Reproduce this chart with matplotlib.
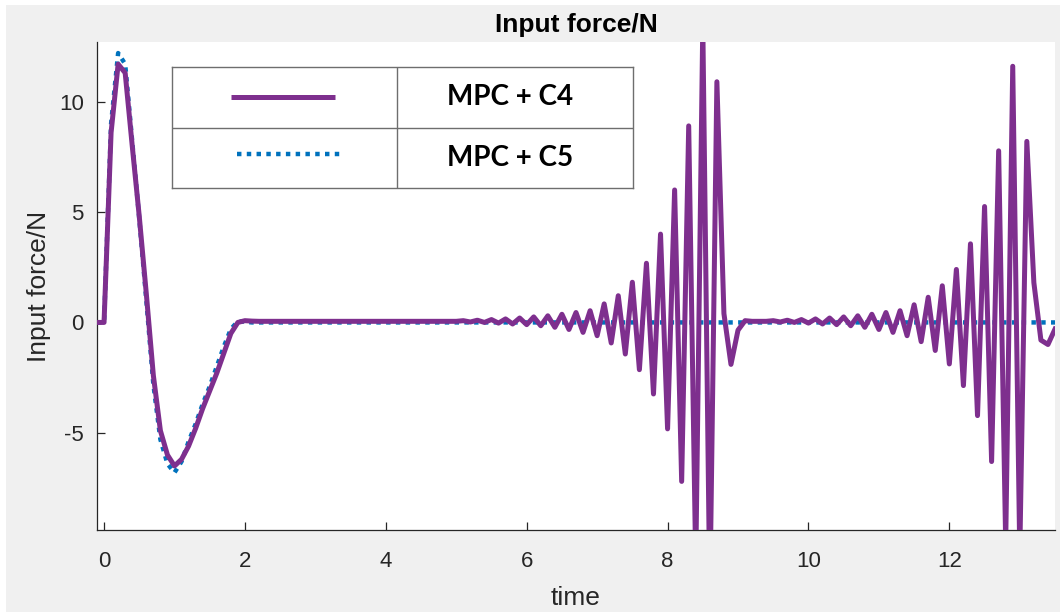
import numpy as np
import matplotlib
matplotlib.use('Agg')
import matplotlib.pyplot as plt
from matplotlib.patches import Rectangle

# Abtastung der Simulation
t_start = -0.1
dt = 0.1

# Input force MPC + C4 (t = -0.1 ... 13.5)
force_c4 = [
    0.0,
    0.0, 8.6, 11.7, 11.3, 8.0, 4.8, 1.3, -2.4, -4.9, -6.0,          # 0.0 - 0.9
    -6.5, -6.2, -5.6, -4.8, -3.9, -3.1, -2.3, -1.4, -0.5, 0.0,      # 1.0 - 1.9
    0.08, 0.06, 0.05, 0.05, 0.05, 0.05, 0.05, 0.05, 0.05, 0.05,     # 2.0 - 2.9
    0.05, 0.05, 0.05, 0.05, 0.05, 0.05, 0.05, 0.05, 0.05, 0.05,     # 3.0 - 3.9
    0.05, 0.05, 0.05, 0.05, 0.05, 0.05, 0.05, 0.05, 0.05, 0.05,     # 4.0 - 4.9
    0.05, 0.08, 0.02, 0.1, 0.0, 0.13, -0.03, 0.16, -0.07, 0.2,      # 5.0 - 5.9
    -0.1, 0.25, -0.15, 0.3, -0.22, 0.37, -0.32, 0.45, -0.45, 0.53,  # 6.0 - 6.9
    -0.6, 0.84, -0.93, 1.21, -1.43, 1.82, -2.14, 2.68, -3.24, 4.0,  # 7.0 - 7.9
    -4.82, 6.0, -7.2, 8.9, -11.0, 13.5, -12.5, 10.9, 0.4, -1.9,     # 8.0 - 8.9
    -0.35, 0.08, 0.05, 0.05, 0.05, 0.08, 0.02, 0.1, 0.0, 0.13,      # 9.0 - 9.9
    -0.03, 0.16, -0.07, 0.2, -0.1, 0.25, -0.15, 0.3, -0.22, 0.37,   # 10.0 - 10.9
    -0.32, 0.45, -0.45, 0.53, -0.6, 0.8, -0.87, 1.14, -1.27, 1.66,  # 11.0 - 11.9
    -1.88, 2.4, -2.86, 3.56, -4.22, 5.25, -6.3, 7.77, -10.0, 11.6,  # 12.0 - 12.9
    -10.5, 8.2, 1.8, -0.8, -1.0, -0.3,                              # 13.0 - 13.5
]

# Input force MPC + C5 (t = -0.1 ... 13.5)
force_c5 = [
    0.0,
    0.0, 9.0, 12.2, 11.7, 8.2, 4.7, 1.0, -2.8, -5.3, -6.4,          # 0.0 - 0.9
    -6.8, -6.3, -5.4, -4.6, -3.7, -2.9, -2.0, -1.1, -0.3, 0.05,     # 1.0 - 1.9
    0.03, 0.0, 0.0, 0.0, 0.0, 0.0, 0.0, 0.0, 0.0, 0.0,              # 2.0 - 2.9
    0.0, 0.0, 0.0, 0.0, 0.0, 0.0, 0.0, 0.0, 0.0, 0.0,               # 3.0 - 3.9
    0.0, 0.0, 0.0, 0.0, 0.0, 0.0, 0.0, 0.0, 0.0, 0.0,               # 4.0 - 4.9
    0.0, 0.0, 0.0, 0.0, 0.0, 0.0, 0.0, 0.0, 0.0, 0.0,               # 5.0 - 5.9
    0.0, 0.0, 0.0, 0.0, 0.0, 0.0, 0.0, 0.0, 0.0, 0.0,               # 6.0 - 6.9
    0.0, 0.0, 0.0, 0.0, 0.0, 0.0, 0.0, 0.0, 0.0, 0.0,               # 7.0 - 7.9
    0.0, 0.0, 0.0, 0.0, 0.0, 0.0, 0.0, 0.0, 0.0, 0.0,               # 8.0 - 8.9
    0.0, 0.0, 0.0, 0.0, 0.0, 0.0, 0.0, 0.0, 0.0, 0.0,               # 9.0 - 9.9
    0.0, 0.0, 0.0, 0.0, 0.0, 0.0, 0.0, 0.0, 0.0, 0.0,               # 10.0 - 10.9
    0.0, 0.0, 0.0, 0.0, 0.0, 0.0, 0.0, 0.0, 0.0, 0.0,               # 11.0 - 11.9
    0.0, 0.0, 0.0, 0.0, 0.0, 0.0, 0.0, 0.0, 0.0, 0.0,               # 12.0 - 12.9
    0.0, 0.0, 0.0, 0.0, 0.0, 0.0,                                   # 13.0 - 13.5
]

series_labels = ["MPC + C4", "MPC + C5"]
x_ticks = [0, 2, 4, 6, 8, 10, 12]
y_ticks = [-5, 0, 5, 10]

time = np.round(t_start + dt * np.arange(len(force_c4)), 2)

purple = '#7E2F8E'
blue = '#0072BD'
axis_col = '#262626'
plt.rcParams['font.family'] = ['Liberation Sans', 'DejaVu Sans']
plt.rcParams['axes.unicode_minus'] = False

fig = plt.figure(figsize=(10.6, 6.14), dpi=100, facecolor='white')
# grauer MATLAB-Hintergrund
fig.add_artist(Rectangle((6 / 1060, 0.004), 1.0, 1 - 5 / 614 - 0.004,
                         transform=fig.transFigure, facecolor='#f0f0f0',
                         edgecolor='none', zorder=-10))

ax = fig.add_axes([97 / 1060, 1 - 530 / 614, (1055 - 97) / 1060, (530 - 42) / 614])
ax.plot(time, force_c5, color=blue, lw=3.2, linestyle=(0, (1.0, 1.2)),
        dash_capstyle='butt', dash_joinstyle='round', zorder=2)
ax.plot(time, force_c4, color=purple, lw=3.6, zorder=3,
        solid_joinstyle='round')

ax.set_xlim(-0.1, 13.5)
ax.set_ylim(-9.4, 12.7)
ax.set_xticks(x_ticks)
ax.set_yticks(y_ticks)
ax.spines['top'].set_visible(False)
ax.spines['right'].set_visible(False)
for s in ['left', 'bottom']:
    ax.spines[s].set_color(axis_col)
    ax.spines[s].set_linewidth(0.9)
ax.tick_params(direction='in', length=6, width=0.9, colors=axis_col,
               labelsize=16)
ax.tick_params(axis='x', pad=15)
ax.tick_params(axis='y', pad=9.5)
ax.set_title("Input force/N", fontsize=19, fontweight='bold', color='black', pad=7)
ax.set_xlabel("time", fontsize=19, color=axis_col, labelpad=10)
ax.set_ylabel("Input force/N", fontsize=19, color=axis_col, labelpad=6)

# Legende als Tabelle
lg = fig.add_axes([172 / 1060, 1 - 188 / 614, (633 - 172) / 1060, (188 - 67) / 614])
lg.set_xlim(0, 1)
lg.set_ylim(0, 1)
lg.set_xticks([])
lg.set_yticks([])
for s in lg.spines.values():
    s.set_color('#6e6e6e')
    s.set_linewidth(1.0)
lg.axhline(0.5, color='#6e6e6e', lw=1.0)
lg.axvline(0.488, color='#6e6e6e', lw=1.0)
lg.plot([0.128, 0.354], [0.752, 0.752], color=purple, lw=3.6, solid_capstyle='butt')
lg.plot([0.141, 0.369], [0.281, 0.281], color=blue, lw=3.2,
        linestyle=(0, (1.0, 1.2)), dash_capstyle='butt')
for yy, lab in zip([0.75, 0.25], series_labels):
    lg.text(0.733, yy, lab, ha='center', va='center', fontsize=20,
            fontweight='bold', family=['Lato', 'DejaVu Sans'], color='black')

fig.savefig("out.png", dpi=100, facecolor=fig.get_facecolor())
